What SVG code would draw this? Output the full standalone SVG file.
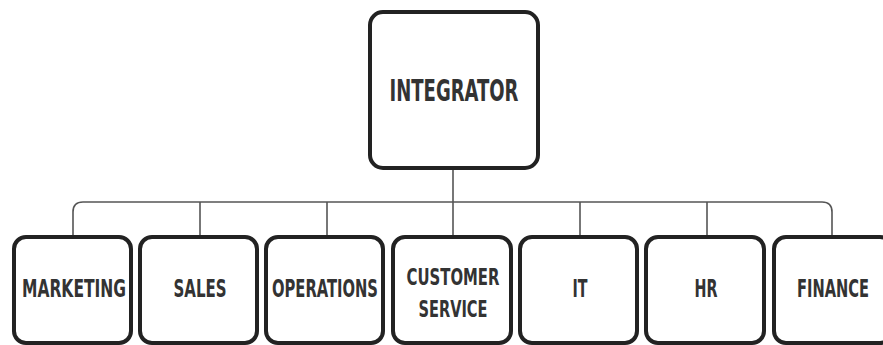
<svg xmlns="http://www.w3.org/2000/svg" width="883" height="345" viewBox="0 0 883 345">
<style>
.box{fill:#fff;stroke:#222;stroke-width:4}
.lbl{font-family:"DejaVu Sans Condensed","DejaVu Sans",sans-serif;font-stretch:condensed;font-weight:bold;fill:#333;text-anchor:middle}
.big{font-size:30px}
.sm{font-size:25px}
.two{font-size:23px}
.conn{fill:none;stroke:#555;stroke-width:1.6}
</style>
<rect width="883" height="345" fill="#fff"/>
<g id="connectors">
<line class="conn" x1="453" y1="168" x2="453" y2="237"/>
<path class="conn" d="M73 237 V212 Q73 202 83 202 H822 Q832 202 832 212 V237"/>
<line class="conn" x1="200" y1="202" x2="200" y2="237"/>
<line class="conn" x1="327" y1="202" x2="327" y2="237"/>
<line class="conn" x1="580" y1="202" x2="580" y2="237"/>
<line class="conn" x1="707" y1="202" x2="707" y2="237"/>
</g>
<g id="integrator">
<rect class="box" x="370" y="12" width="168" height="156" rx="13"/>
<text class="lbl big" x="454" y="101" textLength="129" lengthAdjust="spacingAndGlyphs">INTEGRATOR</text>
</g>
<g id="marketing">
<rect class="box" x="14" y="237" width="117" height="106" rx="12"/>
<text class="lbl sm" x="74" y="297" textLength="104" lengthAdjust="spacingAndGlyphs">MARKETING</text>
</g>
<g id="sales">
<rect class="box" x="140" y="237" width="117" height="106" rx="12"/>
<text class="lbl sm" x="200" y="297" textLength="53" lengthAdjust="spacingAndGlyphs">SALES</text>
</g>
<g id="operations">
<rect class="box" x="266" y="237" width="117" height="106" rx="12"/>
<text class="lbl sm" x="325" y="297" textLength="106" lengthAdjust="spacingAndGlyphs">OPERATIONS</text>
</g>
<g id="customer-service">
<rect class="box" x="393" y="237" width="118" height="106" rx="12"/>
<text class="lbl two" x="453" y="285" textLength="93" lengthAdjust="spacingAndGlyphs">CUSTOMER</text>
<text class="lbl two" x="453" y="317" textLength="69" lengthAdjust="spacingAndGlyphs">SERVICE</text>
</g>
<g id="it">
<rect class="box" x="520" y="237" width="117" height="106" rx="12"/>
<text class="lbl sm" x="580" y="297" textLength="15" lengthAdjust="spacingAndGlyphs">IT</text>
</g>
<g id="hr">
<rect class="box" x="646" y="237" width="118" height="106" rx="12"/>
<text class="lbl sm" x="706" y="297" textLength="23" lengthAdjust="spacingAndGlyphs">HR</text>
</g>
<g id="finance">
<rect class="box" x="774" y="237" width="118" height="106" rx="12"/>
<text class="lbl sm" x="833" y="297" textLength="72" lengthAdjust="spacingAndGlyphs">FINANCE</text>
</g>
</svg>
